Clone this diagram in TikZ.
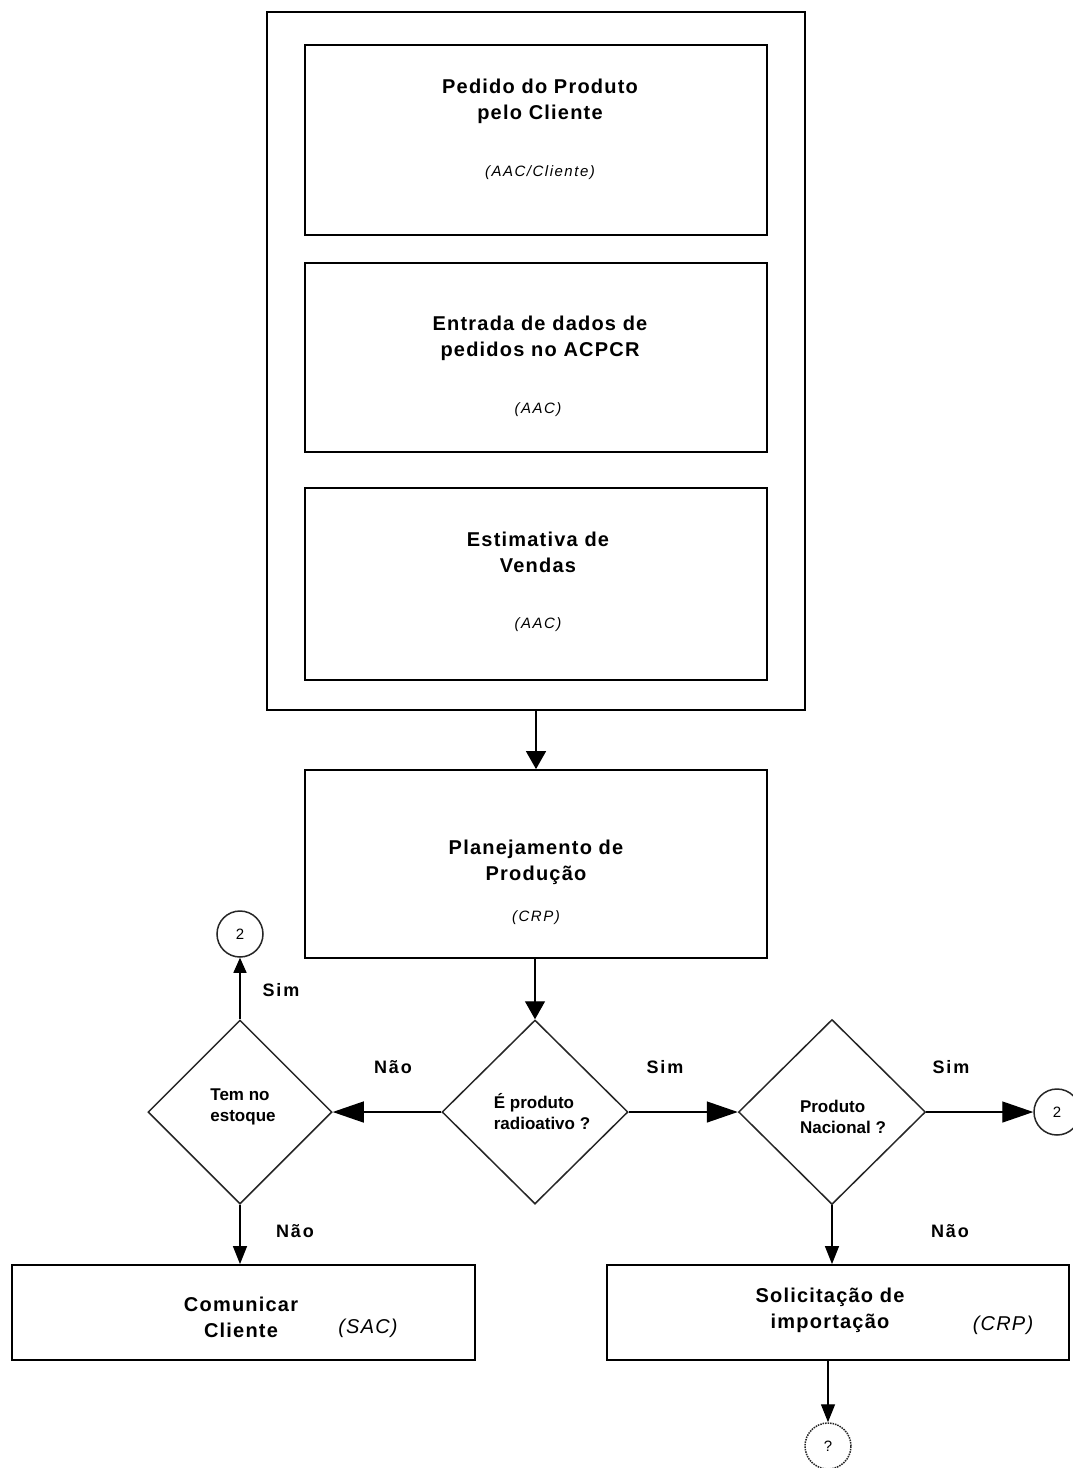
\documentclass[tikz,border=0pt]{standalone}
\usepackage{fontspec}
\setmainfont{Liberation Sans}
\newfontfamily\trackedfont[LetterSpace=6]{Liberation Sans}
\newfontfamily\widetrackedfont[LetterSpace=10]{Liberation Sans}
\usetikzlibrary{arrows.meta,shapes.geometric}

\tikzset{
  procbox/.style={draw=black, line width=1.8pt, rectangle, inner sep=0pt},
  decision/.style={draw=black!85, line width=1.5pt, diamond, inner sep=0pt, aspect=1},
  connector/.style={draw=black!85, line width=1.5pt, circle, inner sep=0pt, minimum size=46pt,
    font=\fontsize{15}{17}\selectfont},
  title/.style={align=center, inner sep=0pt, font=\trackedfont\bfseries\fontsize{20}{26}\selectfont},
  owner/.style={inner sep=0pt, font=\widetrackedfont\itshape\fontsize{15}{18}\selectfont},
  ownerbig/.style={inner sep=0pt, font=\trackedfont\itshape\fontsize{20}{24}\selectfont},
  qtext/.style={align=left, inner sep=0pt, font=\bfseries\fontsize{17}{21}\selectfont},
  answer/.style={inner sep=0pt, font=\widetrackedfont\bfseries\fontsize{18}{20}\selectfont},
  flow/.style={draw=black, line width=1.4pt},
  harrow/.style={flow, -{Triangle[length=31pt,width=21pt]}},
  varrow/.style={flow, -{Triangle[length=18pt,width=14pt]}},
  warrow/.style={flow, -{Triangle[length=18pt,width=20pt]}},
}

\begin{document}
\begin{tikzpicture}[x=1pt,y=-1pt]
\useasboundingbox (0,0) rectangle (1072,1468);
\fill[white] (0,0) rectangle (1072,1468);

% order-entry group
\node[procbox, minimum width=538pt, minimum height=698pt] (group) at (536,361) {};

\node[procbox, minimum width=462pt, minimum height=190pt] (pedido) at (536,140) {};
\node[title] (pedidoT) at (540,101) {Pedido do Produto\\pelo Cliente};
\node[owner] (pedidoO) at (540,173) {(AAC/Cliente)};

\node[procbox, minimum width=462pt, minimum height=189pt] (entrada) at (536,357.5) {};
\node[title] (entradaT) at (540,338) {Entrada de dados de\\pedidos no ACPCR};
\node[owner] (entradaO) at (538,410) {(AAC)};

\node[procbox, minimum width=462pt, minimum height=192pt] (estimativa) at (536,584) {};
\node[title] (estimativaT) at (538,552) {Estimativa de\\Vendas};
\node[owner] (estimativaO) at (538,625) {(AAC)};

% production planning
\node[procbox, minimum width=462pt, minimum height=188pt] (plan) at (536,864) {};
\node[title] (planT) at (536,862) {Planejamento de\\Produção};
\node[owner] (planO) at (536,918) {(CRP)};

% decisions
\node[decision, minimum width=186pt, minimum height=184pt] (radio) at (535,1112) {};
\node[qtext] (radioT) at (542,1112) {É produto\\radioativo ?};

\node[decision, minimum width=184pt, minimum height=184pt] (estoque) at (240,1112) {};
\node[qtext] (estoqueT) at (243,1107) {Tem no\\estoque};

\node[decision, minimum width=187pt, minimum height=185pt] (nacional) at (832,1112) {};
\node[qtext] (nacionalT) at (843,1117) {Produto\\Nacional ?};

% off-page connectors
\node[connector] (c1) at (240,934) {2};
\node[connector] (c2) at (1057,1112) {2};
\node[connector, densely dotted] (c3) at (828,1446) {?};

% final actions
\node[procbox, minimum width=463pt, minimum height=95pt] (comunicar) at (243.5,1312.5) {};
\node[title] (comunicarT) at (241,1317) {Comunicar\\Cliente};
\node[ownerbig] (comunicarO) at (368,1328) {(SAC)};

\node[procbox, minimum width=462pt, minimum height=95pt] (solicit) at (838,1312.5) {};
\node[title] (solicitT) at (830,1310) {Solicitação de\\importação};
\node[ownerbig] (solicitO) at (1003,1325) {(CRP)};

% flow
\draw[warrow] (group.south -| plan.north) -- (plan.north);
\draw[warrow] (plan.south -| radio.north) -- (radio.north);
\draw[harrow] (radio.west) -- (estoque.east);
\draw[harrow] (radio.east) -- (nacional.west);
\draw[harrow] (nacional.east) -- (c2.west);
\draw[flow, -{Triangle[length=15pt,width=13pt]}] (estoque.north) -- (c1.south);
\draw[varrow] (estoque.south) -- (estoque.south |- comunicar.north);
\draw[varrow] (nacional.south) -- (nacional.south |- solicit.north);
\draw[varrow] (solicit.south -| c3.north) -- (c3.north);

% answers
\node[answer] (simA) at (281,990) {Sim};
\node[answer] (naoA) at (393,1067) {Não};
\node[answer] (simB) at (665,1067) {Sim};
\node[answer] (simC) at (951,1067) {Sim};
\node[answer] (naoB) at (295,1231) {Não};
\node[answer] (naoC) at (950,1231) {Não};
\end{tikzpicture}
\end{document}
